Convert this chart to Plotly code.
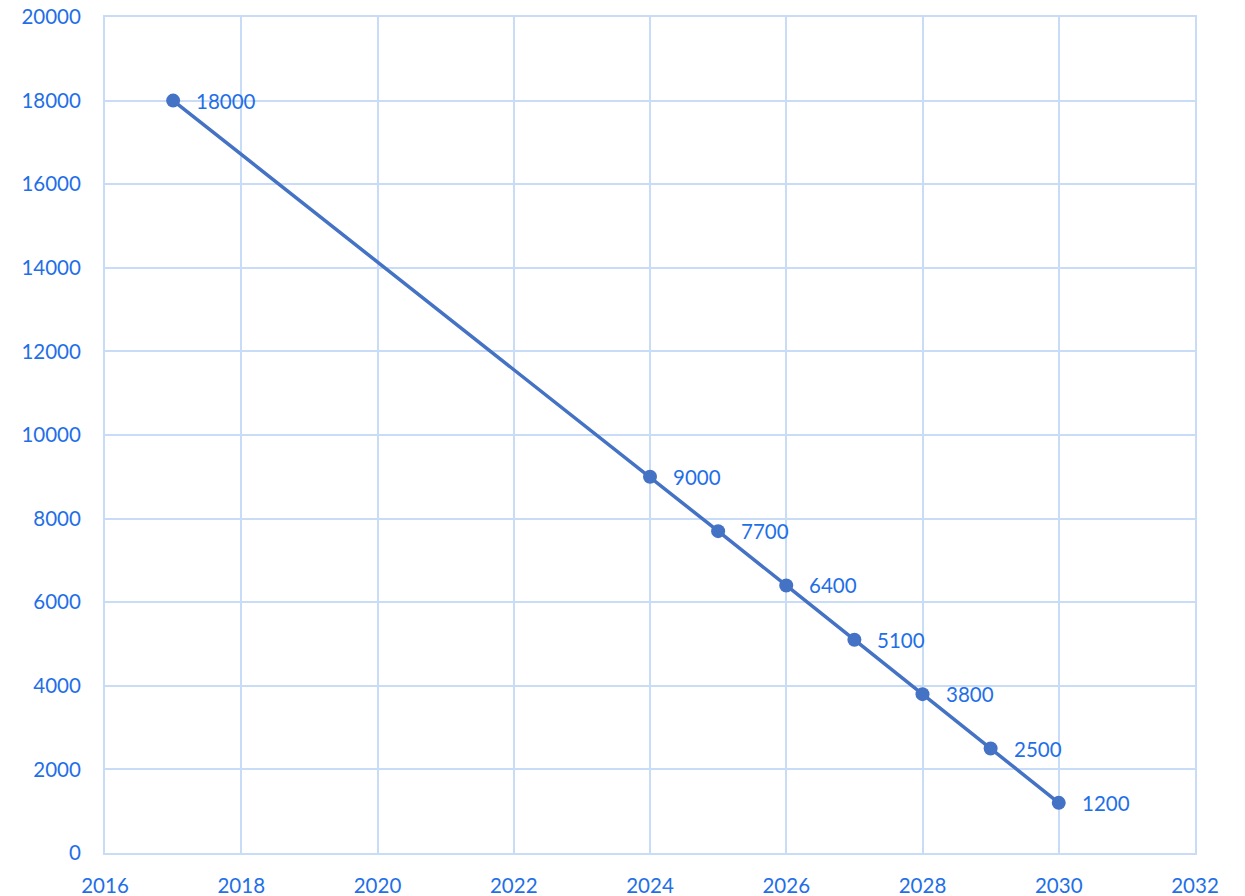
import plotly.graph_objects as go

years = [2017, 2024, 2025, 2026, 2027, 2028, 2029, 2030]
values = [18000, 9000, 7700, 6400, 5100, 3800, 2500, 1200]

line_color = "#4472C4"
text_color = "#1F6FE8"
grid_color = "#C9DCF7"
font_family = "Lato, 'Open Sans', sans-serif"
fsize = 20.5

fig = go.Figure()
fig.add_trace(go.Scatter(
    x=years, y=values, mode="lines+markers",
    line=dict(color=line_color, width=3.5),
    marker=dict(color=line_color, size=14),
    hoverinfo="skip", showlegend=False,
))
for x, y in zip(years, values):
    fig.add_annotation(x=x, y=y, text=str(y), showarrow=False,
                       xanchor="left", yanchor="middle", xshift=21,
                       font=dict(color=text_color, size=fsize, family=font_family))

fig.update_layout(
    width=1237, height=888,
    margin=dict(l=97, r=50, t=9, b=43, autoexpand=False),
    plot_bgcolor="white", paper_bgcolor="white",
    font=dict(family=font_family, color=text_color, size=fsize),
    xaxis=dict(range=[2016, 2032], dtick=2, tick0=2016, showgrid=True,
               gridcolor=grid_color, gridwidth=2, zeroline=False,
               showline=True, linecolor=grid_color, linewidth=2, mirror=True,
               ticks="", ticklabelstandoff=13, automargin=False, tickformat="d",
               ticklabeloverflow="allow",
               tickfont=dict(color=text_color, size=fsize, family=font_family)),
    yaxis=dict(range=[0, 20000], dtick=2000, showgrid=True,
               gridcolor=grid_color, gridwidth=2, zeroline=False,
               showline=True, linecolor=grid_color, linewidth=2, mirror=True,
               ticks="", ticklabelstandoff=18, automargin=False, tickformat="d",
               ticklabeloverflow="allow",
               tickfont=dict(color=text_color, size=fsize, family=font_family)),
)
fig.write_html("out.html")
